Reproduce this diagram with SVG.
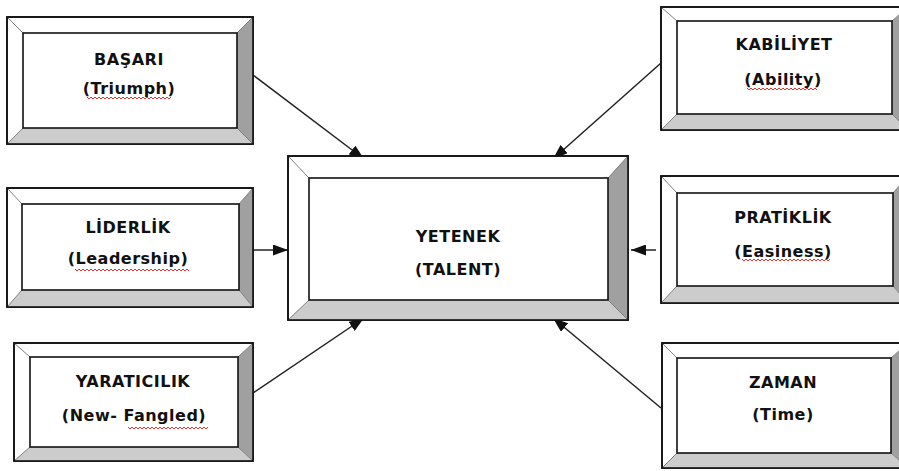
<svg xmlns="http://www.w3.org/2000/svg" width="899" height="471" viewBox="0 0 899 471">
<style>
.outer{fill:#ffffff;stroke:#111;stroke-width:1.6}
.inner{fill:#ffffff;stroke:#111;stroke-width:1.6}
.rb{fill:#a0a0a0}
.bb{fill:#cccccc}
.diag{stroke:#808080;stroke-width:1}
.lbl{font-family:"DejaVu Sans",Verdana,sans-serif;font-weight:bold;font-size:16px;fill:#111;text-anchor:middle;letter-spacing:0.5px}
.sq{fill:none;stroke:#e03030;stroke-width:1}
.con{stroke:#222;stroke-width:1.5;fill:none}
</style>
<defs>
<marker id="ah" markerUnits="userSpaceOnUse" markerWidth="15" markerHeight="11" refX="15" refY="5.5" orient="auto">
<path d="M0,0 L15,5.5 L0,11 z" fill="#111"/>
</marker>
</defs>
<g id="connectors">
<line class="con" x1="253" y1="75" x2="364" y2="159" marker-end="url(#ah)"/>
<line class="con" x1="253" y1="250" x2="288" y2="250" marker-end="url(#ah)"/>
<line class="con" x1="253" y1="393" x2="364" y2="318" marker-end="url(#ah)"/>
<line class="con" x1="661" y1="63" x2="553" y2="159" marker-end="url(#ah)"/>
<line class="con" x1="656" y1="250" x2="631" y2="250" marker-end="url(#ah)"/>
<line class="con" x1="661" y1="408" x2="553" y2="318" marker-end="url(#ah)"/>
</g>
<g id="basari">
<rect class="outer" x="7" y="17" width="246" height="127"/>
<polygon class="rb" points="253,17 237,33 237,128 253,144"/>
<polygon class="bb" points="7,144 23,128 237,128 253,144"/>
<line class="diag" x1="7" y1="17" x2="23" y2="33"/><line class="diag" x1="253" y1="17" x2="237" y2="33"/>
<line class="diag" x1="7" y1="144" x2="23" y2="128"/><line class="diag" x1="253" y1="144" x2="237" y2="128"/>
<rect class="outer" x="7" y="17" width="246" height="127" fill="none" style="fill:none"/>
<rect class="inner" x="23" y="33" width="214" height="95"/>
<text class="lbl" x="129" y="65">BAŞARI</text>
<text class="lbl" x="129" y="94">(Triumph)</text>
<path class="sq" d="M87,97 l2,2 l2,-2 l2,2 l2,-2 l2,2 l2,-2 l2,2 l2,-2 l2,2 l2,-2 l2,2 l2,-2 l2,2 l2,-2 l2,2 l2,-2 l2,2 l2,-2 l2,2 l2,-2 l2,2 l2,-2 l2,2 l2,-2 l2,2 l2,-2 l2,2 l2,-2 l2,2 l2,-2 l2,2 l2,-2 l2,2 l2,-2 l2,2 l2,-2 l2,2 l2,-2 l2,2 l2,-2 l2,2 l2,-2"/>
</g>
<g id="liderlik">
<rect class="outer" x="7" y="188" width="246" height="119"/>
<polygon class="rb" points="253,188 239,204 239,290 253,307"/>
<polygon class="bb" points="7,307 22,290 239,290 253,307"/>
<line class="diag" x1="7" y1="188" x2="22" y2="204"/><line class="diag" x1="253" y1="188" x2="239" y2="204"/>
<line class="diag" x1="7" y1="307" x2="22" y2="290"/><line class="diag" x1="253" y1="307" x2="239" y2="290"/>
<rect class="outer" x="7" y="188" width="246" height="119" style="fill:none"/>
<rect class="inner" x="22" y="204" width="217" height="86"/>
<text class="lbl" x="128" y="233">LİDERLİK</text>
<text class="lbl" x="128" y="264">(Leadership)</text>
<path class="sq" d="M75,269 l2,2 l2,-2 l2,2 l2,-2 l2,2 l2,-2 l2,2 l2,-2 l2,2 l2,-2 l2,2 l2,-2 l2,2 l2,-2 l2,2 l2,-2 l2,2 l2,-2 l2,2 l2,-2 l2,2 l2,-2 l2,2 l2,-2 l2,2 l2,-2 l2,2 l2,-2 l2,2 l2,-2 l2,2 l2,-2 l2,2 l2,-2 l2,2 l2,-2 l2,2 l2,-2 l2,2 l2,-2 l2,2 l2,-2 l2,2 l2,-2 l2,2 l2,-2 l2,2 l2,-2 l2,2 l2,-2 l2,2 l2,-2 l2,2 l2,-2 l2,2 l2,-2 l2,2"/>
</g>
<g id="yaraticilik">
<rect class="outer" x="14" y="343" width="239" height="118"/>
<polygon class="rb" points="253,343 238,357 238,447 253,461"/>
<polygon class="bb" points="14,461 30,447 238,447 253,461"/>
<line class="diag" x1="14" y1="343" x2="30" y2="357"/><line class="diag" x1="253" y1="343" x2="238" y2="357"/>
<line class="diag" x1="14" y1="461" x2="30" y2="447"/><line class="diag" x1="253" y1="461" x2="238" y2="447"/>
<rect class="outer" x="14" y="343" width="239" height="118" style="fill:none"/>
<rect class="inner" x="30" y="357" width="208" height="90"/>
<text class="lbl" x="133" y="387">YARATICILIK</text>
<text class="lbl" x="134" y="421">(New- Fangled)</text>
<path class="sq" d="M128,427 l2,2 l2,-2 l2,2 l2,-2 l2,2 l2,-2 l2,2 l2,-2 l2,2 l2,-2 l2,2 l2,-2 l2,2 l2,-2 l2,2 l2,-2 l2,2 l2,-2 l2,2 l2,-2 l2,2 l2,-2 l2,2 l2,-2 l2,2 l2,-2 l2,2 l2,-2 l2,2 l2,-2 l2,2 l2,-2 l2,2 l2,-2 l2,2 l2,-2 l2,2 l2,-2 l2,2 l2,-2"/>
</g>
<g id="yetenek">
<rect class="outer" x="288" y="156" width="340" height="164"/>
<polygon class="rb" points="628,156 608,178 608,300 628,320"/>
<polygon class="bb" points="288,320 309,300 608,300 628,320"/>
<line class="diag" x1="288" y1="156" x2="309" y2="178"/><line class="diag" x1="628" y1="156" x2="608" y2="178"/>
<line class="diag" x1="288" y1="320" x2="309" y2="300"/><line class="diag" x1="628" y1="320" x2="608" y2="300"/>
<rect class="outer" x="288" y="156" width="340" height="164" style="fill:none"/>
<rect class="inner" x="309" y="178" width="299" height="122"/>
<text class="lbl" x="458" y="242">YETENEK</text>
<text class="lbl" x="458" y="275">(TALENT)</text>
</g>
<g id="kabiliyet">
<rect class="outer" x="661" y="7" width="247" height="123"/>
<polygon class="rb" points="908,7 892,21 892,114 908,130"/>
<polygon class="bb" points="661,130 677,114 892,114 908,130"/>
<line class="diag" x1="661" y1="7" x2="677" y2="21"/><line class="diag" x1="908" y1="7" x2="892" y2="21"/>
<line class="diag" x1="661" y1="130" x2="677" y2="114"/><line class="diag" x1="908" y1="130" x2="892" y2="114"/>
<rect class="outer" x="661" y="7" width="247" height="123" style="fill:none"/>
<rect class="inner" x="677" y="21" width="215" height="93"/>
<text class="lbl" x="784" y="50">KABİLİYET</text>
<text class="lbl" x="783" y="85">(Ability)</text>
<path class="sq" d="M747,88 l2,2 l2,-2 l2,2 l2,-2 l2,2 l2,-2 l2,2 l2,-2 l2,2 l2,-2 l2,2 l2,-2 l2,2 l2,-2 l2,2 l2,-2 l2,2 l2,-2 l2,2 l2,-2 l2,2 l2,-2 l2,2 l2,-2 l2,2 l2,-2 l2,2 l2,-2 l2,2 l2,-2 l2,2 l2,-2 l2,2 l2,-2 l2,2"/>
</g>
<g id="pratiklik">
<rect class="outer" x="661" y="176" width="247" height="127"/>
<polygon class="rb" points="908,176 893,193 893,286 908,303"/>
<polygon class="bb" points="661,303 677,286 893,286 908,303"/>
<line class="diag" x1="661" y1="176" x2="677" y2="193"/><line class="diag" x1="908" y1="176" x2="893" y2="193"/>
<line class="diag" x1="661" y1="303" x2="677" y2="286"/><line class="diag" x1="908" y1="303" x2="893" y2="286"/>
<rect class="outer" x="661" y="176" width="247" height="127" style="fill:none"/>
<rect class="inner" x="677" y="193" width="216" height="93"/>
<text class="lbl" x="783" y="223">PRATİKLİK</text>
<text class="lbl" x="783" y="257">(Easiness)</text>
<path class="sq" d="M742,259 l2,2 l2,-2 l2,2 l2,-2 l2,2 l2,-2 l2,2 l2,-2 l2,2 l2,-2 l2,2 l2,-2 l2,2 l2,-2 l2,2 l2,-2 l2,2 l2,-2 l2,2 l2,-2 l2,2 l2,-2 l2,2 l2,-2 l2,2 l2,-2 l2,2 l2,-2 l2,2 l2,-2 l2,2 l2,-2 l2,2 l2,-2 l2,2 l2,-2 l2,2 l2,-2 l2,2 l2,-2 l2,2 l2,-2 l2,2 l2,-2"/>
</g>
<g id="zaman">
<rect class="outer" x="662" y="343" width="246" height="125"/>
<polygon class="rb" points="908,343 891,358 891,453 908,468"/>
<polygon class="bb" points="662,468 677,453 891,453 908,468"/>
<line class="diag" x1="662" y1="343" x2="677" y2="358"/><line class="diag" x1="908" y1="343" x2="891" y2="358"/>
<line class="diag" x1="662" y1="468" x2="677" y2="453"/><line class="diag" x1="908" y1="468" x2="891" y2="453"/>
<rect class="outer" x="662" y="343" width="246" height="125" style="fill:none"/>
<rect class="inner" x="677" y="358" width="214" height="95"/>
<text class="lbl" x="783" y="388">ZAMAN</text>
<text class="lbl" x="783" y="420">(Time)</text>
</g>
</svg>
